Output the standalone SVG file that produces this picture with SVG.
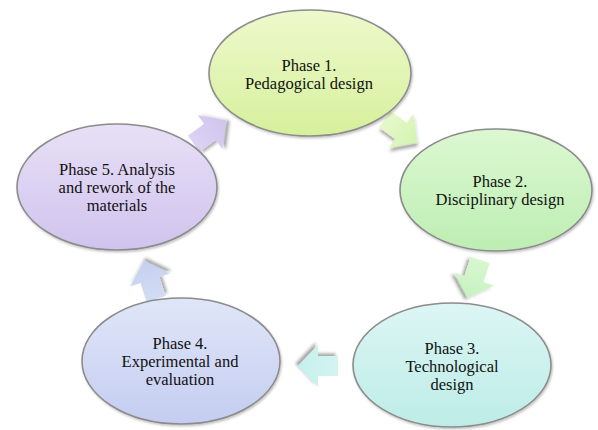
<svg xmlns="http://www.w3.org/2000/svg" width="598" height="430" viewBox="0 0 598 430">
<style>
.node ellipse{stroke:#8c8c8c;stroke-width:1.6;filter:url(#esh)}
.lbl{font-size:16.5px;fill:#111;text-anchor:middle}
.arr{filter:url(#ash)}
</style>
<defs>
<filter id="ash" x="-50%" y="-50%" width="200%" height="200%">
<feDropShadow dx="2.5" dy="2.5" stdDeviation="1.8" flood-color="#000" flood-opacity="0.35"/>
</filter>
<filter id="esh" x="-10%" y="-10%" width="120%" height="120%">
<feDropShadow dx="1" dy="1.5" stdDeviation="1.2" flood-color="#000" flood-opacity="0.25"/>
</filter>
<linearGradient id="g1" x1="0" y1="0" x2="0" y2="1"><stop offset="0" stop-color="#eef9cc"/><stop offset="1" stop-color="#d6f09c"/></linearGradient>
<linearGradient id="g2" x1="0" y1="0" x2="0" y2="1"><stop offset="0" stop-color="#dcf8d2"/><stop offset="1" stop-color="#bdeeb2"/></linearGradient>
<linearGradient id="g3" x1="0" y1="0" x2="0" y2="1"><stop offset="0" stop-color="#dcf6f4"/><stop offset="1" stop-color="#bdece7"/></linearGradient>
<linearGradient id="g4" x1="0" y1="0" x2="0" y2="1"><stop offset="0" stop-color="#e0e6f8"/><stop offset="1" stop-color="#c4cdf1"/></linearGradient>
<linearGradient id="g5" x1="0" y1="0" x2="0" y2="1"><stop offset="0" stop-color="#e8e0f6"/><stop offset="1" stop-color="#d0c3ee"/></linearGradient>
<linearGradient id="a1" x1="0" y1="0" x2="1" y2="0"><stop offset="0" stop-color="#e6f8cc"/><stop offset="1" stop-color="#d4f3b0"/></linearGradient>
<linearGradient id="a2" x1="0" y1="0" x2="1" y2="0"><stop offset="0" stop-color="#d8f7cf"/><stop offset="1" stop-color="#c6f2c0"/></linearGradient>
<linearGradient id="a3" x1="0" y1="0" x2="1" y2="0"><stop offset="0" stop-color="#d4f4f1"/><stop offset="1" stop-color="#c4f0ec"/></linearGradient>
<linearGradient id="a4" x1="0" y1="0" x2="1" y2="0"><stop offset="0" stop-color="#d2dcf4"/><stop offset="1" stop-color="#c4d0f0"/></linearGradient>
<linearGradient id="a5" x1="0" y1="0" x2="1" y2="0"><stop offset="0" stop-color="#dcd2f2"/><stop offset="1" stop-color="#d0c4ee"/></linearGradient>
<polygon id="arrow" points="-20,-10 0,-10 0,-21 20,0 0,21 0,10 -20,10"/>
</defs>

<g id="connectors">
<use href="#arrow" class="arr" fill="url(#a1)" transform="translate(401,131) rotate(36)"/>
<use href="#arrow" class="arr" fill="url(#a2)" transform="translate(474,279) rotate(108)"/>
<use href="#arrow" class="arr" fill="url(#a3)" transform="translate(318,366) rotate(180)"/>
<use href="#arrow" class="arr" fill="url(#a4)" transform="translate(150,280) rotate(252)"/>
<use href="#arrow" class="arr" fill="url(#a5)" transform="translate(210,132) rotate(324)"/>
</g>

<g font-family="'Liberation Serif', 'Times New Roman', 'DejaVu Serif', serif">
<g id="phase1" class="node">
<ellipse cx="310" cy="73" rx="101" ry="63" fill="url(#g1)"/>
<text class="lbl" x="309" y="71">Phase 1.</text>
<text class="lbl" x="309" y="89">Pedagogical design</text>
</g>
<g id="phase2" class="node">
<ellipse cx="496" cy="190" rx="96" ry="61" fill="url(#g2)"/>
<text class="lbl" x="500" y="187">Phase 2.</text>
<text class="lbl" x="500" y="205">Disciplinary design</text>
</g>
<g id="phase3" class="node">
<ellipse cx="452" cy="365" rx="99" ry="62" fill="url(#g3)"/>
<text class="lbl" x="452" y="354">Phase 3.</text>
<text class="lbl" x="452" y="372">Technological</text>
<text class="lbl" x="452" y="390">design</text>
</g>
<g id="phase4" class="node">
<ellipse cx="181" cy="361" rx="99" ry="63" fill="url(#g4)"/>
<text class="lbl" x="180" y="349">Phase 4.</text>
<text class="lbl" x="180" y="367">Experimental and</text>
<text class="lbl" x="180" y="385">evaluation</text>
</g>
<g id="phase5" class="node">
<ellipse cx="117" cy="187" rx="100" ry="63" fill="url(#g5)"/>
<text class="lbl" x="117" y="175">Phase 5. Analysis</text>
<text class="lbl" x="117" y="193">and rework of the</text>
<text class="lbl" x="117" y="211">materials</text>
</g>
</g>
</svg>
